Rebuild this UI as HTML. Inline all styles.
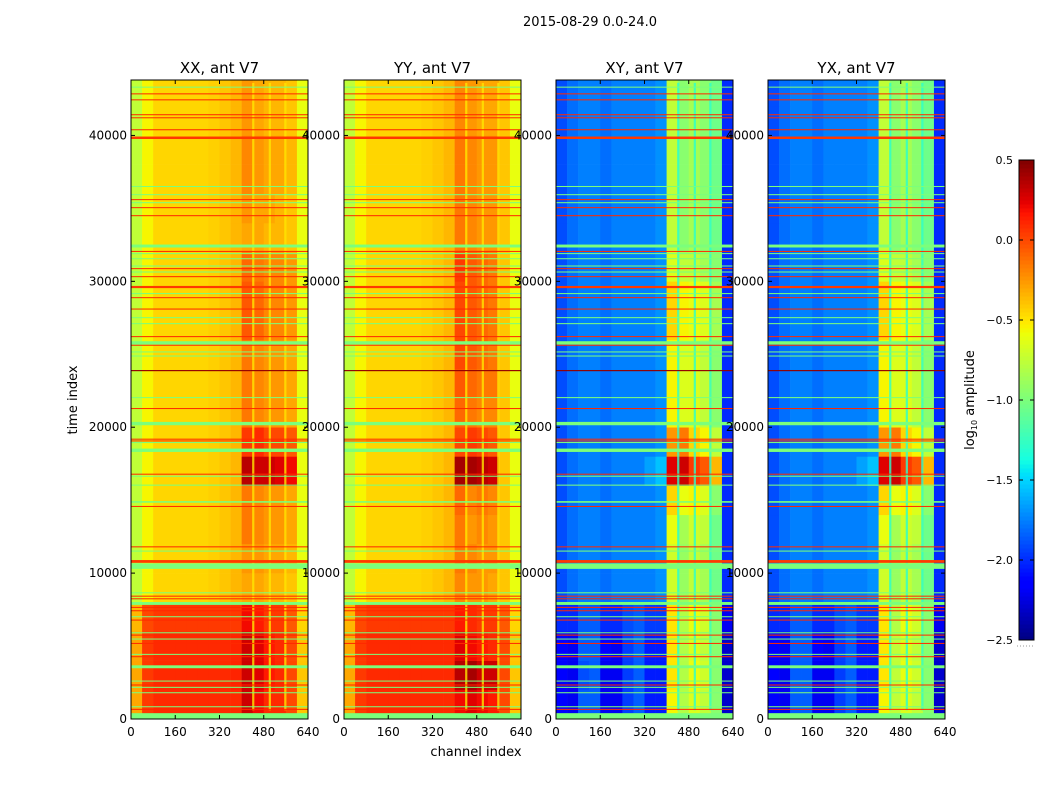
<!DOCTYPE html>
<html><head><meta charset="utf-8">
<style>
body{margin:0;background:#fff;}
svg text{font-family:"DejaVu Sans","Liberation Sans",sans-serif;fill:#000;}
</style></head>
<body>
<svg id="fig" width="1050" height="800" viewBox="0 0 1050 800" xmlns="http://www.w3.org/2000/svg">
<rect x="0" y="0" width="1050" height="800" fill="#fff"/>
<text x="590" y="26" font-size="13" text-anchor="middle">2015-08-29 0.0-24.0</text>
<text x="476" y="756" font-size="13" text-anchor="middle">channel index</text>
<text transform="translate(77,400) rotate(-90)" font-size="13" text-anchor="middle">time index</text>
<g id="panels"></g>
<g id="cbar"></g>
</svg>
<script>
// ---- data ----
const timeMax = 43800;
const channelMax = 640;
const rowSize = 2000;
const colSize = 40;
const xTicks = [0,160,320,480,640];
const yTicks = [0,10000,20000,30000,40000];
const cbarTicks = [0.5,0.0,-0.5,-1.0,-1.5,-2.0,-2.5];
const panelTitles = ["XX, ant V7","YY, ant V7","XY, ant V7","YX, ant V7"];
// rows bottom (time 0) to top, 16 channel blocks each
const gridXX = [
[-0.3,0.05,0.1,0.1,0.1,0.1,0.1,0.1,0.1,0.1,0.3,0.2,0.1,0.1,0.0,-0.4],
[-0.3,0.05,0.1,0.1,0.1,0.1,0.1,0.1,0.1,0.12,0.3,0.25,0.15,0.1,0.0,-0.4],
[-0.3,0.05,0.1,0.1,0.1,0.1,0.1,0.1,0.1,0.12,0.3,0.25,0.15,0.1,0.0,-0.4],
[-0.35,0.0,0.05,0.05,0.05,0.05,0.05,0.05,0.05,0.05,0.2,0.15,0.05,0.05,-0.05,-0.45],
[-0.75,-0.55,-0.45,-0.45,-0.45,-0.45,-0.45,-0.43,-0.4,-0.35,-0.3,-0.3,-0.35,-0.35,-0.4,-0.6],
[-0.75,-0.55,-0.45,-0.45,-0.45,-0.45,-0.45,-0.43,-0.4,-0.35,-0.25,-0.25,-0.3,-0.3,-0.35,-0.6],
[-0.75,-0.55,-0.45,-0.45,-0.45,-0.45,-0.45,-0.43,-0.4,-0.35,-0.15,-0.2,-0.25,-0.25,-0.3,-0.6],
[-0.75,-0.55,-0.45,-0.45,-0.45,-0.45,-0.45,-0.43,-0.4,-0.35,-0.15,-0.2,-0.25,-0.25,-0.3,-0.6],
[-0.75,-0.55,-0.45,-0.45,-0.45,-0.45,-0.45,-0.43,-0.4,-0.35,0.35,0.3,0.3,0.25,0.2,-0.6],
[-0.75,-0.55,-0.45,-0.45,-0.45,-0.45,-0.45,-0.43,-0.4,-0.35,0.05,0.1,0.0,0.0,-0.05,-0.6],
[-0.75,-0.55,-0.45,-0.45,-0.45,-0.45,-0.45,-0.43,-0.4,-0.35,-0.15,-0.2,-0.25,-0.25,-0.3,-0.6],
[-0.75,-0.55,-0.45,-0.45,-0.45,-0.45,-0.45,-0.43,-0.4,-0.35,-0.15,-0.2,-0.25,-0.25,-0.3,-0.6],
[-0.75,-0.55,-0.45,-0.45,-0.45,-0.45,-0.45,-0.43,-0.4,-0.35,-0.15,-0.2,-0.25,-0.25,-0.3,-0.6],
[-0.75,-0.55,-0.45,-0.45,-0.45,-0.45,-0.45,-0.43,-0.4,-0.35,-0.05,-0.1,-0.2,-0.2,-0.25,-0.6],
[-0.75,-0.55,-0.45,-0.45,-0.45,-0.45,-0.45,-0.43,-0.4,-0.35,-0.05,-0.1,-0.2,-0.2,-0.25,-0.6],
[-0.75,-0.55,-0.45,-0.45,-0.45,-0.45,-0.45,-0.43,-0.4,-0.35,-0.1,-0.15,-0.2,-0.2,-0.25,-0.6],
[-0.75,-0.55,-0.45,-0.45,-0.45,-0.45,-0.45,-0.43,-0.4,-0.35,-0.3,-0.3,-0.35,-0.35,-0.4,-0.6],
[-0.75,-0.55,-0.45,-0.45,-0.45,-0.45,-0.45,-0.43,-0.4,-0.35,-0.25,-0.3,-0.3,-0.35,-0.4,-0.6],
[-0.75,-0.55,-0.45,-0.45,-0.45,-0.45,-0.45,-0.43,-0.4,-0.35,-0.2,-0.25,-0.3,-0.3,-0.35,-0.6],
[-0.75,-0.55,-0.45,-0.45,-0.45,-0.45,-0.45,-0.43,-0.4,-0.35,-0.2,-0.25,-0.3,-0.3,-0.35,-0.6],
[-0.75,-0.55,-0.45,-0.45,-0.45,-0.45,-0.45,-0.43,-0.4,-0.35,-0.25,-0.3,-0.35,-0.35,-0.4,-0.6],
[-0.75,-0.55,-0.45,-0.45,-0.45,-0.45,-0.45,-0.43,-0.4,-0.35,-0.25,-0.3,-0.35,-0.35,-0.4,-0.6]
];
const gridYY = [
[-0.3,0.05,0.1,0.1,0.1,0.1,0.1,0.1,0.1,0.1,0.2,0.25,0.2,0.15,0.0,-0.4],
[-0.3,0.05,0.1,0.1,0.1,0.1,0.1,0.1,0.1,0.1,0.35,0.4,0.3,0.3,0.0,-0.4],
[-0.3,0.05,0.1,0.1,0.1,0.1,0.1,0.1,0.1,0.1,0.25,0.2,0.15,0.1,0.0,-0.4],
[-0.35,0.0,0.05,0.05,0.05,0.05,0.05,0.05,0.05,0.05,0.15,0.1,0.05,0.05,-0.05,-0.45],
[-0.75,-0.55,-0.45,-0.45,-0.45,-0.45,-0.45,-0.43,-0.4,-0.35,-0.2,-0.25,-0.25,-0.3,-0.4,-0.6],
[-0.75,-0.55,-0.45,-0.45,-0.45,-0.45,-0.45,-0.43,-0.4,-0.35,-0.15,-0.2,-0.25,-0.25,-0.4,-0.6],
[-0.75,-0.55,-0.45,-0.45,-0.45,-0.45,-0.45,-0.43,-0.4,-0.35,-0.15,-0.25,-0.2,-0.25,-0.4,-0.6],
[-0.75,-0.55,-0.45,-0.45,-0.45,-0.45,-0.45,-0.43,-0.4,-0.35,-0.1,-0.2,-0.15,-0.2,-0.4,-0.6],
[-0.75,-0.55,-0.45,-0.45,-0.45,-0.45,-0.45,-0.43,-0.4,-0.35,0.4,0.4,0.35,0.3,-0.4,-0.6],
[-0.75,-0.55,-0.45,-0.45,-0.45,-0.45,-0.45,-0.43,-0.4,-0.35,0.0,0.05,0.0,-0.05,-0.4,-0.6],
[-0.75,-0.55,-0.45,-0.45,-0.45,-0.45,-0.45,-0.43,-0.4,-0.35,-0.1,-0.15,-0.2,-0.2,-0.4,-0.6],
[-0.75,-0.55,-0.45,-0.45,-0.45,-0.45,-0.45,-0.43,-0.4,-0.35,-0.05,-0.1,-0.15,-0.15,-0.4,-0.6],
[-0.75,-0.55,-0.45,-0.45,-0.45,-0.45,-0.45,-0.43,-0.4,-0.35,0.0,-0.05,-0.1,-0.15,-0.4,-0.6],
[-0.75,-0.55,-0.45,-0.45,-0.45,-0.45,-0.45,-0.43,-0.4,-0.35,0.0,-0.05,-0.1,-0.15,-0.4,-0.6],
[-0.75,-0.55,-0.45,-0.45,-0.45,-0.45,-0.45,-0.43,-0.4,-0.35,0.0,-0.05,-0.1,-0.15,-0.4,-0.6],
[-0.75,-0.55,-0.45,-0.45,-0.45,-0.45,-0.45,-0.43,-0.4,-0.35,0.05,-0.05,-0.1,-0.15,-0.4,-0.6],
[-0.75,-0.55,-0.45,-0.45,-0.45,-0.45,-0.45,-0.43,-0.4,-0.35,-0.15,-0.2,-0.25,-0.25,-0.4,-0.6],
[-0.75,-0.55,-0.45,-0.45,-0.45,-0.45,-0.45,-0.43,-0.4,-0.35,-0.15,-0.2,-0.25,-0.25,-0.4,-0.6],
[-0.75,-0.55,-0.45,-0.45,-0.45,-0.45,-0.45,-0.43,-0.4,-0.35,-0.15,-0.2,-0.25,-0.25,-0.4,-0.6],
[-0.75,-0.55,-0.45,-0.45,-0.45,-0.45,-0.45,-0.43,-0.4,-0.35,-0.15,-0.2,-0.25,-0.25,-0.4,-0.6],
[-0.75,-0.55,-0.45,-0.45,-0.45,-0.45,-0.45,-0.43,-0.4,-0.35,-0.2,-0.25,-0.3,-0.3,-0.4,-0.6],
[-0.75,-0.55,-0.45,-0.45,-0.45,-0.45,-0.45,-0.43,-0.4,-0.35,-0.2,-0.25,-0.3,-0.3,-0.4,-0.6]
];
const gridXY = [
[-2.15,-2.2,-1.85,-1.85,-2.2,-2.2,-1.95,-1.85,-2.05,-2.05,-0.55,-0.8,-0.65,-0.75,-0.95,-2.3],
[-2.15,-2.2,-1.9,-1.85,-2.2,-2.2,-1.95,-1.85,-2.05,-2.05,-0.5,-0.8,-0.6,-0.7,-0.95,-2.3],
[-2.15,-2.2,-1.85,-1.85,-2.15,-2.2,-1.95,-1.85,-2.05,-2.05,-0.5,-0.8,-0.65,-0.75,-0.95,-2.3],
[-2.0,-2.0,-1.85,-1.85,-2.0,-2.0,-1.9,-1.85,-1.95,-1.95,-0.5,-0.8,-0.6,-0.7,-0.95,-2.2],
[-1.9,-1.8,-1.75,-1.75,-1.8,-1.75,-1.75,-1.75,-1.75,-1.7,-0.7,-0.9,-0.75,-0.85,-1.05,-2.0],
[-1.9,-1.8,-1.75,-1.75,-1.8,-1.75,-1.75,-1.75,-1.75,-1.7,-0.7,-0.9,-0.75,-0.85,-1.05,-2.0],
[-1.9,-1.8,-1.75,-1.75,-1.8,-1.75,-1.75,-1.75,-1.75,-1.7,-0.6,-0.85,-0.7,-0.75,-1.05,-2.0],
[-1.9,-1.8,-1.75,-1.75,-1.8,-1.75,-1.75,-1.75,-1.75,-1.7,-0.45,-0.6,-0.55,-0.65,-0.95,-2.0],
[-1.9,-1.8,-1.75,-1.75,-1.8,-1.75,-1.75,-1.75,-1.65,-1.55,0.25,0.3,0.05,-0.05,-0.35,-2.0],
[-1.9,-1.8,-1.75,-1.75,-1.8,-1.75,-1.75,-1.75,-1.75,-1.7,-0.25,-0.15,-0.45,-0.55,-0.75,-2.0],
[-1.9,-1.8,-1.75,-1.75,-1.8,-1.75,-1.75,-1.75,-1.75,-1.7,-0.55,-0.65,-0.65,-0.75,-0.95,-2.0],
[-1.9,-1.8,-1.75,-1.75,-1.8,-1.75,-1.75,-1.75,-1.75,-1.7,-0.55,-0.65,-0.65,-0.75,-0.95,-2.0],
[-1.9,-1.8,-1.75,-1.75,-1.8,-1.75,-1.75,-1.75,-1.75,-1.7,-0.55,-0.65,-0.65,-0.75,-0.95,-2.0],
[-1.9,-1.8,-1.75,-1.75,-1.8,-1.75,-1.75,-1.75,-1.75,-1.7,-0.45,-0.55,-0.6,-0.65,-0.85,-2.0],
[-1.9,-1.8,-1.75,-1.75,-1.8,-1.75,-1.75,-1.75,-1.75,-1.7,-0.45,-0.55,-0.6,-0.65,-0.85,-2.0],
[-1.9,-1.8,-1.75,-1.75,-1.8,-1.75,-1.75,-1.75,-1.75,-1.7,-0.65,-0.75,-0.75,-0.85,-0.95,-2.0],
[-1.9,-1.8,-1.75,-1.75,-1.8,-1.75,-1.75,-1.75,-1.75,-1.7,-0.75,-0.95,-0.85,-0.95,-1.05,-2.0],
[-1.9,-1.8,-1.75,-1.75,-1.8,-1.75,-1.75,-1.75,-1.75,-1.7,-0.75,-0.95,-0.85,-0.95,-1.05,-2.0],
[-1.9,-1.8,-1.75,-1.75,-1.8,-1.75,-1.75,-1.75,-1.75,-1.7,-0.75,-0.95,-0.85,-0.95,-1.05,-2.0],
[-1.9,-1.8,-1.75,-1.75,-1.8,-1.75,-1.75,-1.75,-1.75,-1.7,-0.75,-0.95,-0.85,-0.95,-1.05,-2.0],
[-1.9,-1.8,-1.75,-1.75,-1.8,-1.75,-1.75,-1.75,-1.75,-1.7,-0.75,-0.95,-0.85,-0.95,-1.05,-2.0],
[-1.9,-1.8,-1.75,-1.75,-1.8,-1.75,-1.75,-1.75,-1.75,-1.7,-0.75,-0.95,-0.85,-0.95,-1.05,-2.0]
];
const gridYX = [
[-2.15,-2.2,-1.85,-1.85,-2.2,-2.2,-1.95,-1.85,-2.05,-2.05,-0.55,-0.75,-0.65,-0.75,-0.95,-2.3],
[-2.15,-2.2,-1.85,-1.85,-2.2,-2.2,-1.95,-1.85,-2.05,-2.05,-0.5,-0.75,-0.6,-0.7,-0.95,-2.3],
[-2.15,-2.2,-1.85,-1.85,-2.15,-2.2,-1.95,-1.85,-2.05,-2.05,-0.5,-0.75,-0.65,-0.75,-0.95,-2.3],
[-2.0,-2.0,-1.85,-1.85,-2.0,-2.0,-1.9,-1.85,-1.95,-1.95,-0.5,-0.8,-0.6,-0.7,-0.95,-2.2],
[-1.9,-1.8,-1.75,-1.75,-1.8,-1.75,-1.75,-1.75,-1.75,-1.7,-0.7,-0.9,-0.75,-0.85,-1.05,-2.0],
[-1.9,-1.8,-1.75,-1.75,-1.8,-1.75,-1.75,-1.75,-1.75,-1.7,-0.7,-0.9,-0.75,-0.85,-1.05,-2.0],
[-1.9,-1.8,-1.75,-1.75,-1.8,-1.75,-1.75,-1.75,-1.75,-1.7,-0.6,-0.85,-0.7,-0.75,-1.05,-2.0],
[-1.9,-1.8,-1.75,-1.75,-1.8,-1.75,-1.75,-1.75,-1.75,-1.7,-0.45,-0.6,-0.55,-0.65,-0.95,-2.0],
[-1.9,-1.8,-1.75,-1.75,-1.8,-1.75,-1.75,-1.75,-1.65,-1.55,0.25,0.3,0.05,-0.05,-0.35,-2.0],
[-1.9,-1.8,-1.75,-1.75,-1.8,-1.75,-1.75,-1.75,-1.75,-1.7,-0.25,-0.15,-0.45,-0.55,-0.75,-2.0],
[-1.9,-1.8,-1.75,-1.75,-1.8,-1.75,-1.75,-1.75,-1.75,-1.7,-0.55,-0.65,-0.65,-0.75,-0.95,-2.0],
[-1.9,-1.8,-1.75,-1.75,-1.8,-1.75,-1.75,-1.75,-1.75,-1.7,-0.55,-0.65,-0.65,-0.75,-0.95,-2.0],
[-1.9,-1.8,-1.75,-1.75,-1.8,-1.75,-1.75,-1.75,-1.75,-1.7,-0.55,-0.65,-0.65,-0.75,-0.95,-2.0],
[-1.9,-1.8,-1.75,-1.75,-1.8,-1.75,-1.75,-1.75,-1.75,-1.7,-0.45,-0.55,-0.6,-0.65,-0.85,-2.0],
[-1.9,-1.8,-1.75,-1.75,-1.8,-1.75,-1.75,-1.75,-1.75,-1.7,-0.45,-0.55,-0.6,-0.65,-0.85,-2.0],
[-1.9,-1.8,-1.75,-1.75,-1.8,-1.75,-1.75,-1.75,-1.75,-1.7,-0.65,-0.75,-0.75,-0.85,-0.95,-2.0],
[-1.9,-1.8,-1.75,-1.75,-1.8,-1.75,-1.75,-1.75,-1.75,-1.7,-0.75,-0.95,-0.85,-0.95,-1.05,-2.0],
[-1.9,-1.8,-1.75,-1.75,-1.8,-1.75,-1.75,-1.75,-1.75,-1.7,-0.75,-0.95,-0.85,-0.95,-1.05,-2.0],
[-1.9,-1.8,-1.75,-1.75,-1.8,-1.75,-1.75,-1.75,-1.75,-1.7,-0.75,-0.95,-0.85,-0.95,-1.05,-2.0],
[-1.9,-1.8,-1.75,-1.75,-1.8,-1.75,-1.75,-1.75,-1.75,-1.7,-0.75,-0.95,-0.85,-0.95,-1.05,-2.0],
[-1.9,-1.8,-1.75,-1.75,-1.8,-1.75,-1.75,-1.75,-1.75,-1.7,-0.75,-0.95,-0.85,-0.95,-1.05,-2.0],
[-1.9,-1.8,-1.75,-1.75,-1.8,-1.75,-1.75,-1.75,-1.75,-1.7,-0.75,-0.95,-0.85,-0.95,-1.05,-2.0]
];
// narrow channel columns (separators between sub-bands): channel centre, value per panel
const sepChannels = [442,502,558];
const sepValuesXX = [-0.5,-0.5,-0.5];
const sepValuesYY = [-0.5,-0.5,-0.5];
const sepValuesXY = [-1.3,-1.3,-1.3];
const sepValuesYX = [-1.3,-1.3,-1.3];
// horizontal full-width rows: time centre, time width, value
const redLineTimes = [42850,42440,41420,41210,40390,39840,35600,35050,34500,32050,30870,30320,29610,28880,28100,26210,25620,23880,21280,19180,19060,16780,14570,11800,10800,8420,8240,7650,7420,6780,5750,5180,4270,2330,660];
const redLineWidths = [70,70,70,70,70,170,70,70,70,70,70,70,150,70,70,70,70,80,70,70,70,70,70,70,190,70,70,70,70,70,70,70,70,70,70];
const redLineValues = [0.1,0.1,0.1,0.1,0.1,0.05,0.1,0.1,0.1,0.1,0.1,0.1,0.05,0.1,0.1,0.1,0.1,0.45,0.1,0.1,0.1,0.1,0.1,0.1,0.05,0.1,0.1,0.1,0.1,0.1,0.1,0.1,0.1,0.1,0.1];
const flagLineTimes = [43310,36500,35940,35390,32420,31900,31550,31050,30640,29160,27510,27100,25780,25160,24880,22030,20250,18950,18420,16640,16030,14880,11510,10480,8650,7920,7010,5910,5480,4430,3580,2600,2170,1800,840,200];
const flagLineWidths = [70,70,70,70,200,70,70,70,70,70,70,70,230,70,70,70,230,70,230,70,70,110,70,380,70,200,70,70,70,70,200,70,70,70,70,400];
const flagValue = -1.0;
// ---- drawing ----
const NS = "http://www.w3.org/2000/svg";
const panelX = [131,344,556,768];
const panelW = 177, panelTop = 80, panelBot = 719;
const grids = [gridXX,gridYY,gridXY,gridYX];
const sepVals = [sepValuesXX,sepValuesYY,sepValuesXY,sepValuesYX];
function clamp(v){return Math.max(0,Math.min(1,v));}
function interp(pts, t){
  for (let i = 1; i < pts.length; i++) {
    if (t <= pts[i][0]) {
      const [x0,y0] = pts[i-1], [x1,y1] = pts[i];
      return y0 + (y1-y0)*(t-x0)/(x1-x0);
    }
  }
  return pts[pts.length-1][1];
}
const JR = [[0,0],[0.35,0],[0.66,1],[0.89,1],[1,0.5]];
const JG = [[0,0],[0.125,0],[0.375,1],[0.64,1],[0.91,0],[1,0]];
const JB = [[0,0.5],[0.11,1],[0.34,1],[0.65,0],[1,0]];
function jet(v){
  const t = clamp((v+2.5)/3);
  const r = interp(JR,t), g = interp(JG,t), b = interp(JB,t);
  return `rgb(${Math.round(r*255)},${Math.round(g*255)},${Math.round(b*255)})`;
}
function mk(tag, attrs, parent){
  const e = document.createElementNS(NS, tag);
  for (const k in attrs) e.setAttribute(k, attrs[k]);
  parent.appendChild(e); return e;
}
const panelsG = document.getElementById('panels');
panelTitles.forEach((title, p) => {
  const x0 = panelX[p];
  const xs = c => x0 + c / channelMax * panelW;
  const ys = t => panelBot - t / timeMax * (panelBot - panelTop);
  const g = mk('g', {}, panelsG);
  
  
  const grid = grids[p];
  grid.forEach((row, ri) => {
    row.forEach((v, ci) => {
      const y1 = ys(Math.min((ri+1)*rowSize, timeMax)), y2 = ys(ri*rowSize);
      const r = mk('rect', {x: xs(ci*colSize), y: y1, width: xs((ci+1)*colSize)-xs(ci*colSize)+0.3, height: y2-y1+0.3, fill: jet(v)}, g);
      
      
    });
  });
  sepChannels.forEach((c, i) => {
    const r = mk('rect', {x: xs(c-4), y: ys(timeMax-200), width: xs(c+4)-xs(c-4), height: ys(600)-ys(timeMax-200), fill: jet(sepVals[p][i]), opacity: 0.8}, g);
    
    
  });
  redLineTimes.forEach((t, i) => {
    const w = redLineWidths[i];
    const y1 = ys(t + w/2), y2 = ys(t - w/2);
    const r = mk('rect', {x: xs(0), y: y1, width: panelW, height: Math.max(1, y2-y1), fill: jet(redLineValues[i])}, g);
    
    
  });
  flagLineTimes.forEach((t, i) => {
    const w = flagLineWidths[i];
    const y1 = ys(t + w/2), y2 = ys(Math.max(0, t - w/2));
    const r = mk('rect', {x: xs(0), y: y1, width: panelW, height: Math.max(1, y2-y1), fill: jet(flagValue)}, g);
    
    
  });
  const frame = mk('rect', {x: x0, y: panelTop, width: panelW, height: panelBot-panelTop, fill: 'none', stroke: '#000', 'stroke-width': 1}, g);
  
  
  const tt = mk('text', {x: x0 + panelW/2, y: 73, 'font-size': 15, 'text-anchor': 'middle'}, g);
  tt.textContent = title;
  
  
  xTicks.forEach(v => {
    const x = xs(v);
    mk('line', {x1: x, x2: x, y1: panelBot, y2: panelBot-4, stroke: '#000'}, g);
    mk('line', {x1: x, x2: x, y1: panelTop, y2: panelTop+4, stroke: '#000'}, g);
    const l = mk('text', {x: x, y: panelBot + 17, 'font-size': 12, 'text-anchor': 'middle'}, g);
    l.textContent = v;
    
    
  });
  yTicks.forEach(v => {
    const y = ys(v);
    mk('line', {x1: x0, x2: x0+4, y1: y, y2: y, stroke: '#000'}, g);
    mk('line', {x1: x0+panelW, x2: x0+panelW-4, y1: y, y2: y, stroke: '#000'}, g);
    const l = mk('text', {x: x0 - 4, y: y + 4, 'font-size': 12, 'text-anchor': 'end'}, g);
    l.textContent = v;
    
    
  });
});
// colorbar
const cb = document.getElementById('cbar');


const cbX = 1019, cbW = 15, cbTop = 160, cbBot = 640;
const cbY = v => cbBot - (v + 2.5) / 3 * (cbBot - cbTop);
for (let i = 0; i < 120; i++) {
  const v0 = -2.5 + 3 * i / 120, v1 = -2.5 + 3 * (i+1) / 120;
  mk('rect', {x: cbX, y: cbY(v1), width: cbW, height: cbY(v0)-cbY(v1)+0.5, fill: jet((v0+v1)/2)}, cb);
}
mk('rect', {x: cbX, y: cbTop, width: cbW, height: cbBot-cbTop, fill: 'none', stroke: '#000'}, cb);
cbarTicks.forEach(v => {
  const y = cbY(v);
  mk('line', {x1: cbX, x2: cbX+4, y1: y, y2: y, stroke: '#000'}, cb);
  mk('line', {x1: cbX+cbW, x2: cbX+cbW-4, y1: y, y2: y, stroke: '#000'}, cb);
  const l = mk('text', {x: 1013, y: y + 4, 'font-size': 11, 'text-anchor': 'end'}, cb);
  l.textContent = v.toFixed(1).replace('-', '\u2212');
  
  
});
mk('line', {x1: 1017, x2: 1035, y1: 646, y2: 646, stroke: '#999', 'stroke-dasharray': '1,2'}, cb);
const cl = mk('text', {transform: 'translate(974,400) rotate(-90)', 'font-size': 13, 'text-anchor': 'middle'}, cb);


cl.innerHTML = 'log<tspan font-size="8" dy="3">10</tspan><tspan dy="-3"> amplitude</tspan>';
</script>
</body></html>
